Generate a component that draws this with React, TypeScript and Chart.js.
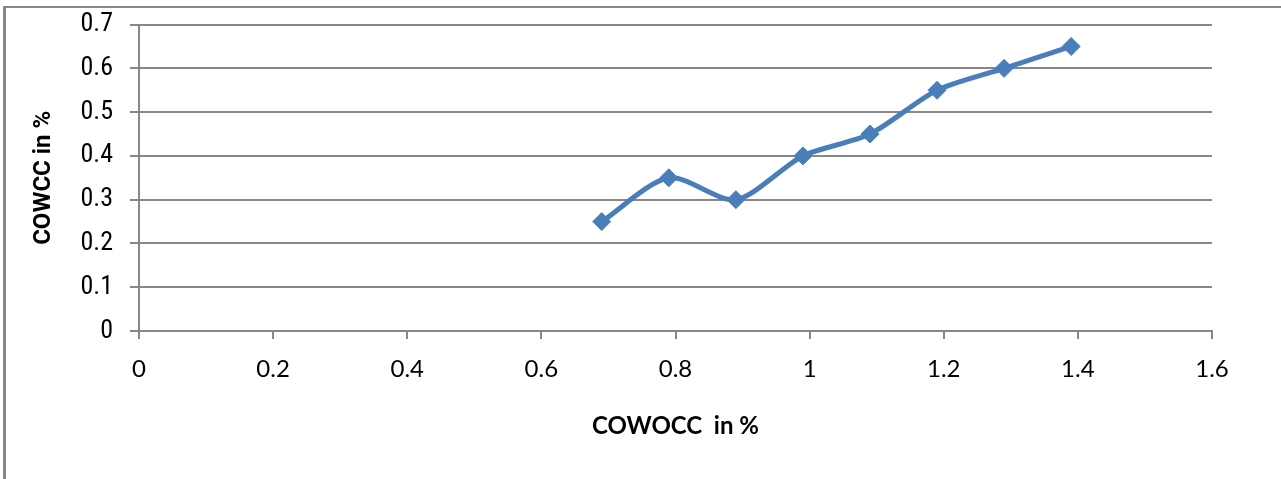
import React, { useEffect, useRef } from "react";
import { Chart, registerables } from "chart.js";

Chart.register(...registerables);

// COWOCC (x) vs COWCC (y), both in percent
const cowoccValues = [0.69, 0.79, 0.89, 0.99, 1.09, 1.19, 1.29, 1.39];
const cowccValues = [0.25, 0.35, 0.3, 0.4, 0.45, 0.55, 0.6, 0.65];

const xAxisTitle = "COWOCC  in %";
const yAxisTitle = "COWCC in %";

const xMin = 0;
const xMax = 1.6;
const xStep = 0.2;
const yMin = 0;
const yMax = 0.7;
const yStep = 0.1;

const W = 1281;
const H = 479;
const LIFT = 8; // canvas is raised a little so the plot top sits near the frame

const lineBlue = "#4A7EBB";
const gridGray = "#878787";

export default function App() {
  const canvasRef = useRef<HTMLCanvasElement | null>(null);

  useEffect(() => {
    document.body.style.margin = "0";
    const canvas = canvasRef.current;
    if (!canvas) return;

    const points = cowoccValues.map((x, i) => ({ x, y: cowccValues[i] }));

    const chart = new Chart(canvas, {
      type: "line",
      data: {
        datasets: [
          {
            data: points,
            borderColor: lineBlue,
            backgroundColor: lineBlue,
            borderWidth: 5,
            tension: 0.27,
            pointStyle: "rectRot",
            pointRadius: 9,
            pointBorderWidth: 1,
            pointBorderColor: lineBlue,
            pointBackgroundColor: lineBlue,
            fill: false,
          },
        ],
      },
      options: {
        animation: false,
        responsive: false,
        maintainAspectRatio: false,
        layout: { padding: { left: 0, right: W - 1212, top: 16, bottom: 0 } },
        plugins: {
          legend: { display: false },
          tooltip: { enabled: false },
          title: { display: false },
        },
        scales: {
          x: {
            type: "linear",
            min: xMin,
            max: xMax,
            ticks: {
              stepSize: xStep,
              color: "#000",
              padding: 16,
              font: { family: "Lato, 'Open Sans', sans-serif", size: 24 },
              callback: (v: any) => String(Math.round(Number(v) * 10) / 10),
            },
            grid: {
              drawOnChartArea: false,
              drawTicks: true,
              tickLength: 8,
              color: gridGray,
              lineWidth: 2,
            },
            border: { display: true, color: gridGray, width: 2 },
            title: {
              display: true,
              text: xAxisTitle,
              color: "#000",
              font: { family: "Lato, 'Open Sans', sans-serif", size: 24, weight: "bold" },
              padding: { top: 0, bottom: 38 },
            },
            afterFit: (scale: any) => {
              scale.height = H - 331;
            },
          },
          y: {
            type: "linear",
            min: yMin,
            max: yMax,
            ticks: {
              stepSize: yStep,
              color: "#000",
              padding: 17,
              font: { family: "'Liberation Sans Narrow', 'Roboto Condensed', Roboto, sans-serif", size: 26 },
              callback: (v: any) => String(Math.round(Number(v) * 10) / 10),
            },
            grid: {
              drawOnChartArea: true,
              drawTicks: true,
              tickLength: 9,
              color: gridGray,
              lineWidth: 2,
            },
            border: { display: true, color: gridGray, width: 2 },
            title: {
              display: true,
              text: yAxisTitle,
              color: "#000",
              font: { family: "'Liberation Sans Narrow', Roboto, sans-serif", size: 24, weight: "bold" },
              padding: { top: 30, bottom: 0 },
            },
            afterFit: (scale: any) => {
              scale.width = 139;
            },
          },
        },
      },
    });

    return () => chart.destroy();
  }, []);

  return (
    <div style={{ position: "relative", width: W, height: H, background: "#fff", overflow: "hidden" }}>
      <canvas
        ref={canvasRef}
        width={W}
        height={H + LIFT}
        style={{ position: "absolute", left: 0, top: -LIFT }}
      />
      <div
        style={{
          position: "absolute",
          left: 3,
          top: 6,
          width: W - 3,
          height: H - 6,
          borderLeft: "3px solid #888",
          borderTop: "2px solid #888",
          boxSizing: "border-box",
          pointerEvents: "none",
        }}
      />
    </div>
  );
}
